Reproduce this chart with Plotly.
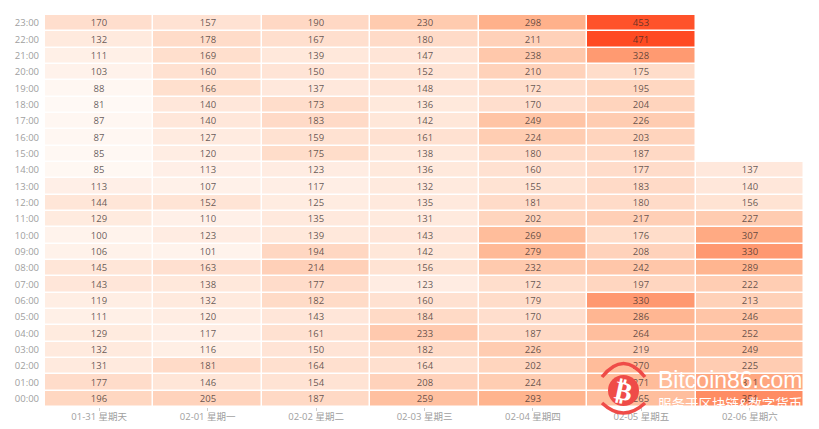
import plotly.graph_objects as go

days = ["01-31 星期天", "02-01 星期一", "02-02 星期二", "02-03 星期三",
        "02-04 星期四", "02-05 星期五", "02-06 星期六"]
hours = ["%02d:00" % h for h in range(24)]

# counts per day, 00:00 up to 23:00
jan31 = [196, 177, 131, 132, 129, 111, 119, 143, 145, 106, 100, 129, 144, 113, 85, 85, 87, 87, 81, 88, 103, 111, 132, 170]
feb01 = [205, 146, 181, 116, 117, 120, 132, 138, 163, 101, 123, 110, 152, 107, 113, 120, 127, 140, 140, 166, 160, 169, 178, 157]
feb02 = [187, 154, 164, 150, 161, 143, 182, 177, 214, 194, 139, 135, 125, 117, 123, 175, 159, 183, 173, 137, 150, 139, 167, 190]
feb03 = [259, 208, 164, 182, 233, 184, 160, 123, 156, 142, 143, 131, 135, 132, 136, 138, 161, 142, 136, 148, 152, 147, 180, 230]
feb04 = [293, 224, 202, 226, 187, 170, 179, 172, 232, 279, 269, 202, 181, 155, 160, 180, 224, 249, 170, 172, 210, 238, 211, 298]
feb05 = [265, 271, 270, 219, 264, 286, 330, 197, 242, 208, 176, 217, 180, 183, 177, 187, 203, 226, 204, 195, 175, 328, 471, 453]
feb06 = [351, 311, 225, 249, 252, 246, 213, 222, 289, 330, 307, 227, 156, 140, 137,
         None, None, None, None, None, None, None, None, None]

columns = [jan31, feb01, feb02, feb03, feb04, feb05, feb06]
z_grid = [[col[i] for col in columns] for i in range(24)]

FONT = "Open Sans, Noto Sans CJK SC"

fig = go.Figure(data=[go.Heatmap(
    z=z_grid,
    x=days,
    y=hours,
    xgap=1.5,
    ygap=1.5,
    zmin=81,
    zmax=471,
    colorscale=[
        [0.0, "#FFF9F5"],
        [0.3, "#FFD6C0"],
        [0.55, "#FFB38D"],
        [0.64, "#FF986F"],
        [0.9, "#FF5C33"],
        [1.0, "#FF4A22"],
    ],
    showscale=False,
    texttemplate="%{z}",
    textfont=dict(size=9.5, color="rgba(50,40,40,0.75)", family=FONT),
)])

fig.update_layout(
    width=819,
    height=429,
    margin=dict(l=45, r=15, t=15, b=22),
    paper_bgcolor="white",
    plot_bgcolor="white",
    font=dict(family=FONT, size=10, color="#a0a0a0"),
    xaxis=dict(ticks="outside", ticklen=3, tickcolor="#cccccc", showgrid=False,
               zeroline=False, showline=False, automargin=False,
               tickfont=dict(size=9.5), ticklabelstandoff=-2),
    yaxis=dict(ticks="", showgrid=False, zeroline=False, showline=False,
               automargin=False, ticklabelstandoff=5, tickfont=dict(size=9.5)),
)

# watermark in the lower right corner
def px(x):
    return (x - 45) / 759.0

def py(y):
    return 1 - (y - 15) / 392.0

fig.add_shape(type="circle", xref="paper", yref="paper", layer="above",
              x0=px(608), x1=px(639), y0=py(406), y1=py(375),
              fillcolor="#EF4B48", line=dict(width=0))
fig.add_shape(type="path", xref="paper", yref="paper", layer="above",
              path="M %f,%f Q %f,%f %f,%f" % (px(602), py(377), px(623.5), py(350), px(645), py(377)),
              line=dict(color="#EF4B48", width=3.5))
fig.add_shape(type="path", xref="paper", yref="paper", layer="above",
              path="M %f,%f Q %f,%f %f,%f" % (px(602), py(403), px(623.5), py(423), px(645), py(403)),
              line=dict(color="#EF4B48", width=3.5))
fig.add_annotation(text="<b>₿</b>", xref="paper", yref="paper", x=px(623.5), y=py(390.5),
                   xanchor="center", yanchor="middle", showarrow=False, textangle=12,
                   font=dict(size=26, color="white", family="DejaVu Sans"))
fig.add_annotation(text="Bitcoin86.com", xref="paper", yref="paper", x=px(804), y=py(380),
                   xanchor="right", yanchor="middle", showarrow=False,
                   font=dict(size=23, color="white", family="Liberation Sans"))
fig.add_annotation(text="服务于区块链&数字货币", xref="paper", yref="paper", x=px(804), y=py(403),
                   xanchor="right", yanchor="middle", showarrow=False,
                   font=dict(size=13.5, color="white", family="Noto Sans CJK SC"))

fig.write_html("out.html", config=dict(displayModeBar=False),
               post_script="document.body.style.margin='0';")
